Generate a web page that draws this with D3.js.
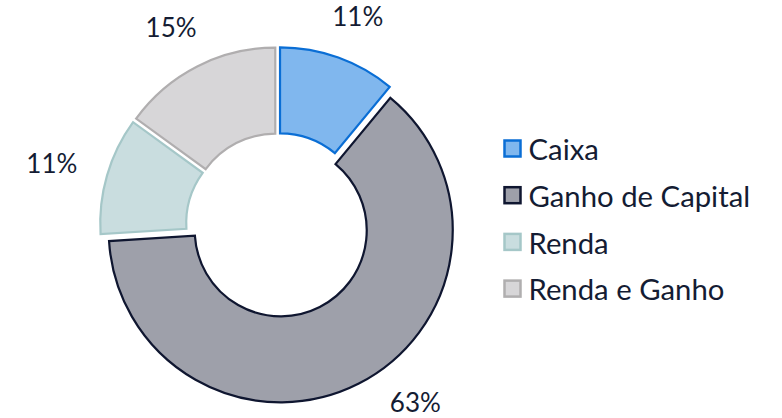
<!DOCTYPE html>
<html><head><meta charset="utf-8">
<script src="https://cdn.jsdelivr.net/npm/d3@7"></script>
<style>body{margin:0;background:#fff}svg{display:block}text{font-family:Lato,"Open Sans",sans-serif;fill:#141c33}</style>
</head><body><svg id="c" width="782" height="418"></svg>
<script>
const categories = ["Caixa","Ganho de Capital","Renda","Renda e Ganho"];
const values = [11,63,11,15];
const labels = ["11%","63%","11%","15%"];
const fills = ["#80b7ee","#9ea0aa","#c9dddf","#d7d6d8"];
const strokes = ["#0a6ed5","#0f1630","#a5c7c8","#b0aeaf"];

const W=782,H=418, cx=278, cy=225, R=172, r0=86, explode=6, labelR=210;
const svg=d3.select("#c");
const pie=d3.pie().sort(null).value(d=>d)(values);
const arc=d3.arc().innerRadius(r0).outerRadius(R);
const g=svg.append("g").attr("transform",`translate(${cx},${cy})`);
pie.forEach((p,i)=>{
  const a=(p.startAngle+p.endAngle)/2;
  const s=Math.sin(a), c=-Math.cos(a);
  g.append("path").attr("d",arc(p)).attr("transform",`translate(${s*explode},${c*explode})`)
   .attr("fill",fills[i]).attr("stroke",strokes[i]).attr("stroke-width",2.2);
  const t=g.append("text").attr("text-anchor","middle").attr("dy","0.36em")
   .attr("font-size",26).text(labels[i]);
  const w=t.node().getComputedTextLength(), h=22;
  // anchor point on label circle, with vertical clamp inside the canvas
  let py=c*labelR;
  const maxY=H-cy-15-h/2*Math.abs(c), minY=-cy+12+h/2*Math.abs(c);
  py=Math.max(minY,Math.min(maxY,py));
  const px=(s>=0?1:-1)*Math.sqrt(Math.max(0,labelR*labelR-py*py));
  t.attr("x",px+s*w/2).attr("y",py+c*h/2);
});
const lg=svg.append("g").attr("transform","translate(503,150)");
categories.forEach((c,i)=>{
  const row=lg.append("g").attr("transform",`translate(0,${i*46.7})`);
  row.append("rect").attr("x",1.5).attr("y",-9.5).attr("width",16).attr("height",16)
     .attr("fill",fills[i]).attr("stroke",strokes[i]).attr("stroke-width",2.5);
  row.append("text").attr("x",25.5).attr("y",0).attr("dy","0.35em").attr("font-size",29.3).text(c);
});
</script></body></html>
